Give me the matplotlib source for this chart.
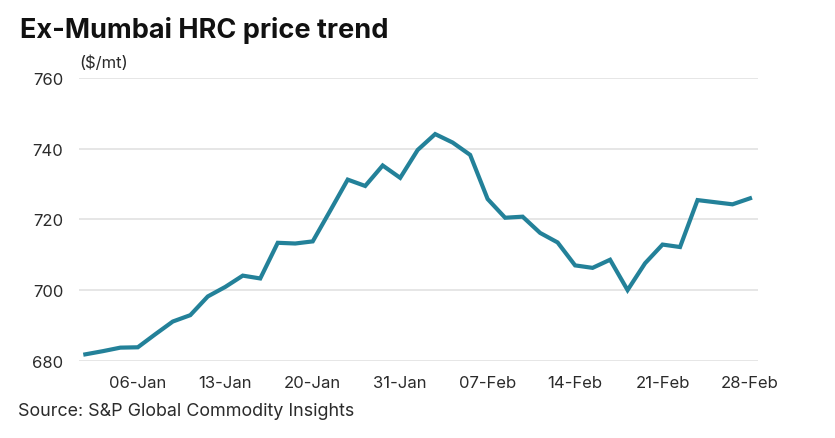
import matplotlib
matplotlib.use("Agg")
import matplotlib.pyplot as plt

# ---- data ----
dates = ["01-Jan", "02-Jan", "03-Jan",
         "06-Jan", "07-Jan", "08-Jan", "09-Jan", "10-Jan",
         "13-Jan", "14-Jan", "15-Jan", "16-Jan", "17-Jan",
         "20-Jan", "21-Jan", "22-Jan", "23-Jan", "24-Jan",
         "31-Jan",
         "03-Feb", "04-Feb", "05-Feb", "06-Feb", "07-Feb",
         "10-Feb", "11-Feb", "12-Feb", "13-Feb", "14-Feb",
         "17-Feb", "18-Feb", "19-Feb", "20-Feb", "21-Feb",
         "24-Feb", "25-Feb", "26-Feb", "27-Feb", "28-Feb"]
prices = [681.8, 682.7, 683.7,
          683.8, 687.5, 691.1, 692.9, 698.2,
          700.9, 704.1, 703.3, 713.4, 713.2,
          713.8, 722.5, 731.3, 729.5, 735.3,
          731.8,
          739.7, 744.2, 741.8, 738.3, 725.8,
          720.5, 720.8, 716.2, 713.5, 707.0,
          706.3, 708.6, 700.0, 707.6, 712.9,
          712.2, 725.5, 724.9, 724.3, 726.0]
tick_labels = ["06-Jan", "13-Jan", "20-Jan", "31-Jan",
               "07-Feb", "14-Feb", "21-Feb", "28-Feb"]
y_ticks = [680, 700, 720, 740, 760]

plt.rcParams["font.family"] = ["Inter", "DejaVu Sans"]
text_color = "#2b2b2b"

fig = plt.figure(figsize=(8.35, 4.39), dpi=100)
W, H = 835, 439
ax = fig.add_axes([78.7 / W, (H - 361.7) / H, (757.7 - 78.7) / W, (361.7 - 79.3) / H])

x = list(range(len(dates)))
ax.plot(x, prices, color="#238199", linewidth=3.0, solid_joinstyle="miter", zorder=3)

ax.set_ylim(680, 760)
ax.set_xlim(-0.38, len(dates) - 1 + 0.44)
ax.set_yticks(y_ticks)
ax.set_yticklabels([str(v) for v in y_ticks], fontsize=12, color=text_color)
tick_pos = [dates.index(t) for t in tick_labels]
ax.set_xticks(tick_pos)
ax.set_xticklabels(tick_labels, fontsize=12, color=text_color)
ax.tick_params(axis="both", length=0)
ax.tick_params(axis="y", pad=11)
ax.tick_params(axis="x", pad=10)

ax.grid(axis="y", color="#e2e2e2", linewidth=1.2)
ax.set_axisbelow(True)
for s in ax.spines.values():
    s.set_visible(False)

fig.text(20 / W, 1 - 38 / H, "Ex-Mumbai HRC price trend", fontsize=19.5,
         fontweight="bold", color="#111111", ha="left", va="baseline")
fig.text(79 / W, 1 - 63 / H, "($/mt)", fontsize=12, color=text_color,
         ha="left", va="center")
fig.text(18 / W, 1 - 412 / H, "Source: S&P Global Commodity Insights",
         fontsize=12.9, color=text_color, ha="left", va="center")

fig.savefig("out.png", dpi=100, facecolor="white")
